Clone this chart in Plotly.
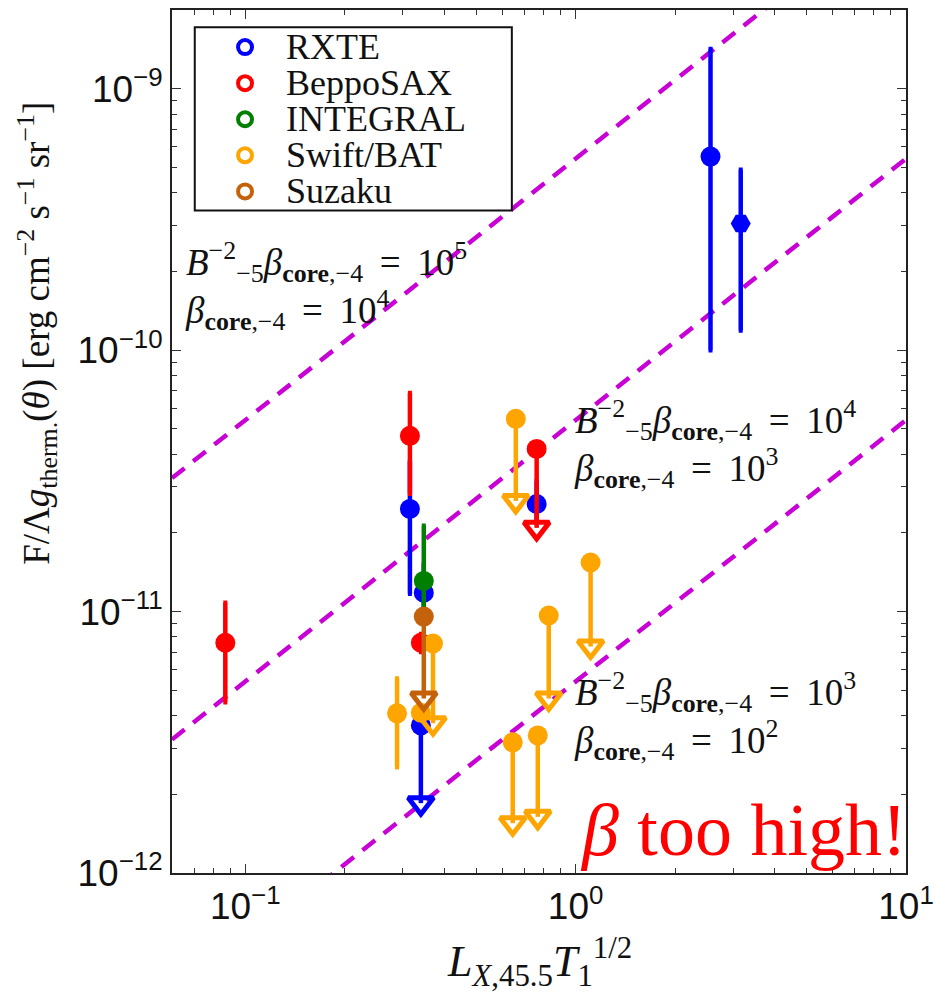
import numpy as np
import plotly.graph_objects as go

# ---- axis limits ----
x_lim = [0.06, 10.0]
y_lim = [1e-12, 2e-9]

# ---- RXTE ----
rxte_x = [2.56, 3.16, 0.315, 0.347, 0.762]
rxte_y = [5.5e-10, 3.05e-10, 2.47e-11, 1.18e-11, 2.58e-11]
rxte_hi = [1.42e-9, 4.9e-10, 3.77e-11, 1.52e-11, 3.16e-11]
rxte_lo = [1.0e-10, 1.19e-10, 1.17e-11, 1.0e-11, 2.2e-11]
rxte_sym = ["circle", "hexagon2", "circle", "circle", "circle"]
rxte_ul_x = [0.34]
rxte_ul_y = [3.67e-12]
rxte_ul_lim = [1.85e-12]

# ---- BeppoSAX ----
sax_x = [0.087, 0.315, 0.34]
sax_y = [7.6e-12, 4.7e-11, 7.6e-12]
sax_hi = [1.08e-11, 6.85e-11, 8.2e-12]
sax_lo = [4.5e-12, 2.82e-11, 7.0e-12]
sax_ul_x = [0.762]
sax_ul_y = [4.19e-11]
sax_ul_lim = [2.09e-11]

# ---- INTEGRAL ----
integral_x = [0.347]
integral_y = [1.31e-11]
integral_hi = [2.13e-11]
integral_lo = [1.0e-11]

# ---- Swift/BAT ----
bat_x = [0.288, 0.34]
bat_y = [4.08e-12, 4.1e-12]
bat_hi = [5.55e-12, 4.1e-12]
bat_lo = [2.54e-12, 4.1e-12]
bat_ul_x = [0.37, 0.659, 0.829, 1.11, 0.645, 0.768]
bat_ul_y = [7.55e-12, 5.46e-11, 9.66e-12, 1.54e-11, 3.16e-12, 3.36e-12]
bat_ul_lim = [3.74e-12, 2.65e-11, 4.65e-12, 7.35e-12, 1.55e-12, 1.64e-12]

# ---- Suzaku ----
suzaku_ul_x = [0.347]
suzaku_ul_y = [9.57e-12]
suzaku_ul_lim = [4.65e-12]

# ---- model lines: F = scale * (B^-2 beta) * L T^1/2 ----
line_scale = 5.4e-15
bbeta_values = [1e3, 1e4, 1e5]
beta_values = [1e2, 1e3, 1e4]

legend_names = ["RXTE", "BeppoSAX", "INTEGRAL", "Swift/BAT", "Suzaku"]
legend_colors = ["#0000ff", "#ff0000", "#007f00", "#ffa500", "#c4620c"]
C = dict(zip(legend_names, legend_colors))

MAGENTA = "#c800d6"
SERIF = "Liberation Serif"
SANS = "Liberation Sans"

fig = go.Figure()

# dashed model lines
xs = np.array(x_lim)
for v in bbeta_values:
    fig.add_trace(go.Scatter(
        x=xs, y=line_scale * v * xs, mode="lines",
        line=dict(color=MAGENTA, width=4.5, dash="16px,11px"),
        hoverinfo="skip"))


def detections(x, y, lo, hi, color, symbols="circle"):
    y = np.array(y)
    return go.Scatter(
        x=x, y=y, mode="markers",
        marker=dict(color=color, size=20, symbol=symbols, line=dict(width=0)),
        error_y=dict(type="data", symmetric=False,
                     array=np.array(hi) - y, arrayminus=y - np.array(lo),
                     color=color, thickness=4.5, width=2))


def upper_limits(x, y, lim, color):
    y = np.array(y)
    stem = go.Scatter(
        x=x, y=y, mode="markers",
        marker=dict(color=color, size=20, line=dict(width=0)),
        error_y=dict(type="data", symmetric=False,
                     array=np.zeros_like(y), arrayminus=y - np.array(lim),
                     color=color, thickness=4.5, width=0))
    head = go.Scatter(
        x=x, y=lim, mode="markers",
        marker=dict(color=color, size=22, symbol="triangle-down-open",
                    line=dict(width=5, color=color)))
    return [stem, head]


fig.add_trace(detections(rxte_x, rxte_y, rxte_lo, rxte_hi, C["RXTE"], rxte_sym))
fig.add_traces(upper_limits(rxte_ul_x, rxte_ul_y, rxte_ul_lim, C["RXTE"]))
fig.add_trace(detections(sax_x, sax_y, sax_lo, sax_hi, C["BeppoSAX"]))
fig.add_traces(upper_limits(sax_ul_x, sax_ul_y, sax_ul_lim, C["BeppoSAX"]))
fig.add_trace(detections(bat_x, bat_y, bat_lo, bat_hi, C["Swift/BAT"]))
fig.add_traces(upper_limits(bat_ul_x, bat_ul_y, bat_ul_lim, C["Swift/BAT"]))
fig.add_trace(detections(integral_x, integral_y, integral_lo, integral_hi, C["INTEGRAL"]))
fig.add_traces(upper_limits(suzaku_ul_x, suzaku_ul_y, suzaku_ul_lim, C["Suzaku"]))


def minor_vals(lo_exp, hi_exp):
    return [k * 10.0 ** e for e in range(lo_exp, hi_exp + 1) for k in range(2, 10)]


def pow_label(e):
    s = str(e).replace("-", "\u2212")
    return f"10<sup>{s}</sup>"


x_major = [-1, 0, 1]
y_major = [-12, -11, -10, -9]

axis_common = dict(
    type="log", showgrid=False, zeroline=False,
    showline=True, linecolor="#222", linewidth=2, mirror="ticks",
    ticks="inside", ticklen=9, tickwidth=1.3, tickcolor="#333",
    tickfont=dict(family=SANS, size=37, color="#111"),
)

fig.update_xaxes(
    **axis_common,
    range=[np.log10(x_lim[0]), np.log10(x_lim[1])],
    tickvals=[10.0 ** e for e in x_major],
    ticktext=[pow_label(e) for e in x_major],
    minor=dict(ticks="inside", ticklen=5, tickwidth=1.2, tickcolor="#333",
               tickvals=minor_vals(-2, 1)),
)
fig.update_yaxes(
    **axis_common,
    range=[np.log10(y_lim[0]), np.log10(y_lim[1])],
    tickvals=[10.0 ** e for e in y_major],
    ticktext=[pow_label(e) for e in y_major],
    minor=dict(ticks="inside", ticklen=5, tickwidth=1.2, tickcolor="#333",
               tickvals=minor_vals(-12, -9)),
)

# ---- legend box, drawn by hand ----
leg_x0, leg_x1, leg_y0, leg_y1 = 0.031, 0.463, 0.7676, 0.980
leg_top, leg_step = 0.957, 0.0418
fig.add_shape(type="rect", xref="paper", yref="paper",
              x0=leg_x0, x1=leg_x1, y0=leg_y0, y1=leg_y1,
              line=dict(color="#111", width=2), fillcolor="white", layer="above")
for i, (name, col) in enumerate(zip(legend_names, legend_colors)):
    yy = leg_top - i * leg_step
    fig.add_shape(type="circle", xref="paper", yref="paper",
                  xsizemode="pixel", ysizemode="pixel",
                  xanchor=0.0995, yanchor=yy, x0=-7, x1=7, y0=-7, y1=7,
                  line=dict(color=col, width=4), layer="above")
    fig.add_annotation(x=0.152, y=yy, xref="paper", yref="paper",
                       text=name, showarrow=False, xanchor="left", yanchor="middle",
                       font=dict(family=SERIF, size=36, color="#111"))

# ---- model labels (two lines each) ----
def model_label(bb, b):
    e1 = int(round(np.log10(bb)))
    e2 = int(round(np.log10(b)))
    line1 = ("<i>B</i><sup>\u22122</sup><sub>\u22125</sub><i>\u03b2</i>"
             "<sub><b>core</b>,\u22124</sub>\u2009 = \u200910<sup>%d</sup>" % e1)
    line2 = "<i>\u03b2</i><sub><b>core</b>,\u22124</sub>\u2009 = \u200910<sup>%d</sup>" % e2
    return line1 + "<br>" + line2


label_pos = [(0.5450, 0.182), (0.5450, 0.497), (0.0150, 0.680)]
for v, b, (lx, ly) in zip(bbeta_values, beta_values, label_pos):
    fig.add_annotation(x=lx, y=ly, xref="paper", yref="paper", text=model_label(v, b),
                       showarrow=False, xanchor="left", yanchor="middle", align="left",
                       font=dict(family=SERIF, size=37, color="#111"))

fig.add_annotation(x=1.004, y=0.05, xref="paper", yref="paper",
                   text="<i>\u03b2</i> too high!", showarrow=False,
                   xanchor="right", yanchor="middle",
                   font=dict(family=SERIF, size=74, color="#ff0000"))

# ---- axis titles ----
fig.add_annotation(x=-0.185, y=0.625, xref="paper", yref="paper", textangle=-90,
                   text=("F/\u039b<i>g</i><sub>therm.</sub>(<i>\u03b8</i>) "
                         "[erg cm<sup>\u22122</sup> s<sup>\u22121</sup> sr<sup>\u22121</sup>]"),
                   showarrow=False, xanchor="center", yanchor="middle",
                   font=dict(family=SERIF, size=37, color="#111"))
fig.add_annotation(x=0.5, y=-0.103, xref="paper", yref="paper",
                   text="<i>L</i><sub><i>X</i>,45.5</sub><i>T</i><sub>1</sub><sup>1/2</sup>",
                   showarrow=False, xanchor="center", yanchor="middle",
                   font=dict(family=SERIF, size=44, color="#111"))

fig.update_layout(
    width=945, height=992,
    margin=dict(l=172, r=39, t=8, b=119),
    plot_bgcolor="white", paper_bgcolor="white",
    showlegend=False,
)

fig.write_html("out.html")
